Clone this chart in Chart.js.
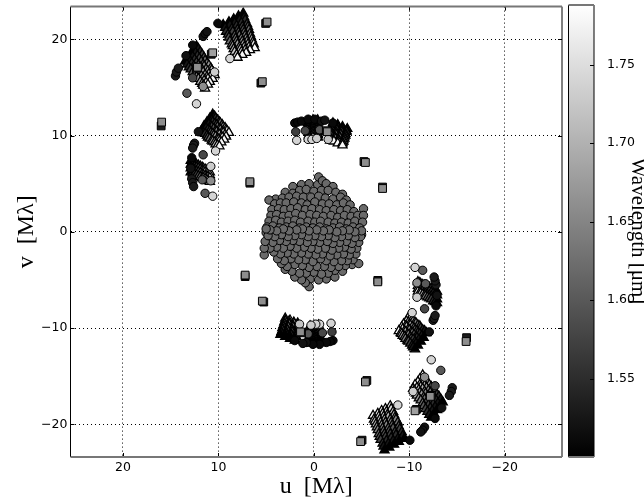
<!DOCTYPE html>
<html>
<head>
<meta charset="utf-8">
<style>
  html, body { margin: 0; padding: 0; background: #fff; overflow: hidden; }
  canvas { position: absolute; left: 0; top: 0; }
</style>
<script src="https://cdn.jsdelivr.net/npm/chart.js@4/dist/chart.umd.min.js"></script>
</head>
<body>
<canvas id="uvChart" width="644" height="499"></canvas>
<canvas id="barChart" width="644" height="499"></canvas>
<script>
// ticks
const xTicks = [20, 10, 0, -10, -20];
const yTicks = [20, 10, 0, -10, -20];
const barTicks = [1.55, 1.6, 1.65, 1.7, 1.75];

// wavelength of each spectral channel, used by the triangle fans
const channels = [1.50, 1.525, 1.55, 1.575, 1.60, 1.625, 1.65, 1.675, 1.70, 1.725, 1.75, 1.78];

// triangles, one row per baseline, one value per channel
const triU = [
  [7.4,7.3,7.2,7.0,6.9,6.8,6.7,6.6,6.5,6.4,6.3,6.2],
  [7.9,7.8,7.6,7.5,7.4,7.3,7.2,7.1,7.0,6.9,6.8,6.7],
  [8.4,8.3,8.1,8.0,7.9,7.8,7.6,7.5,7.4,7.3,7.2,7.1],
  [8.9,8.8,8.6,8.5,8.3,8.2,8.1,8.0,7.8,7.7,7.6,7.5],
  [9.5,9.3,9.2,9.0,8.9,8.8,8.6,8.5,8.4,8.3,8.1,8.0],
  [12.3,12.1,11.9,11.7,11.5,11.4,11.2,11.0,10.8,10.7,10.5,10.4],
  [12.6,12.4,12.2,12.0,11.8,11.6,11.5,11.3,11.1,11.0,10.8,10.6],
  [12.9,12.7,12.5,12.3,12.1,11.9,11.7,11.6,11.4,11.2,11.1,10.9],
  [13.2,13.0,12.8,12.6,12.4,12.2,12.0,11.8,11.6,11.5,11.3,11.1],
  [13.5,13.3,13.1,12.9,12.7,12.5,12.3,12.1,11.9,11.7,11.6,11.4],
  [10.6,10.4,10.3,10.1,9.9,9.8,9.6,9.5,9.3,9.2,9.1,8.9],
  [10.9,10.7,10.6,10.4,10.2,10.1,9.9,9.8,9.6,9.5,9.3,9.2],
  [11.2,11.0,10.8,10.7,10.5,10.3,10.2,10.0,9.9,9.7,9.6,9.4],
  [11.5,11.3,11.1,10.9,10.8,10.6,10.5,10.3,10.1,10.0,9.9,9.7],
  [11.8,11.6,11.4,11.2,11.1,10.9,10.7,10.6,10.4,10.3,10.1,9.9],
  [-2.0,-2.0,-1.9,-1.9,-1.9,-1.8,-1.8,-1.8,-1.8,-1.7,-1.7,-1.7],
  [-2.5,-2.5,-2.4,-2.4,-2.3,-2.3,-2.3,-2.2,-2.2,-2.2,-2.1,-2.1],
  [-3.0,-3.0,-2.9,-2.9,-2.8,-2.8,-2.7,-2.7,-2.6,-2.6,-2.6,-2.5],
  [-3.5,-3.4,-3.4,-3.3,-3.3,-3.2,-3.2,-3.1,-3.1,-3.0,-3.0,-3.0],
  [0.6,0.6,0.6,0.6,0.6,0.6,0.5,0.5,0.5,0.5,0.5,0.5],
  [0.1,0.1,0.1,0.1,0.1,0.1,0.1,0.1,0.1,0.1,0.1,0.1],
  [-0.4,-0.4,-0.4,-0.4,-0.4,-0.4,-0.4,-0.4,-0.4,-0.4,-0.4,-0.4],
  [12.9,12.7,12.5,12.3,12.1,11.9,11.7,11.6,11.4,11.2,11.1,10.9],
  [12.9,12.7,12.5,12.3,12.1,11.9,11.7,11.6,11.4,11.2,11.1,10.9],
  [12.9,12.7,12.5,12.3,12.1,11.9,11.7,11.6,11.4,11.2,11.1,10.9],
  [12.9,12.7,12.5,12.3,12.1,11.9,11.7,11.6,11.4,11.2,11.1,10.9],
  [-7.4,-7.3,-7.2,-7.0,-6.9,-6.8,-6.7,-6.6,-6.5,-6.4,-6.3,-6.2],
  [-7.9,-7.8,-7.6,-7.5,-7.4,-7.3,-7.2,-7.1,-7.0,-6.9,-6.8,-6.7],
  [-8.4,-8.3,-8.1,-8.0,-7.9,-7.8,-7.6,-7.5,-7.4,-7.3,-7.2,-7.1],
  [-8.9,-8.8,-8.6,-8.5,-8.3,-8.2,-8.1,-8.0,-7.8,-7.7,-7.6,-7.5],
  [-9.5,-9.3,-9.2,-9.0,-8.9,-8.8,-8.6,-8.5,-8.4,-8.3,-8.1,-8.0],
  [-12.3,-12.1,-11.9,-11.7,-11.5,-11.4,-11.2,-11.0,-10.8,-10.7,-10.5,-10.4],
  [-12.6,-12.4,-12.2,-12.0,-11.8,-11.6,-11.5,-11.3,-11.1,-11.0,-10.8,-10.6],
  [-12.9,-12.7,-12.5,-12.3,-12.1,-11.9,-11.7,-11.6,-11.4,-11.2,-11.1,-10.9],
  [-13.2,-13.0,-12.8,-12.6,-12.4,-12.2,-12.0,-11.8,-11.6,-11.5,-11.3,-11.1],
  [-13.5,-13.3,-13.1,-12.9,-12.7,-12.5,-12.3,-12.1,-11.9,-11.7,-11.6,-11.4],
  [-10.6,-10.4,-10.3,-10.1,-9.9,-9.8,-9.6,-9.5,-9.3,-9.2,-9.1,-8.9],
  [-10.9,-10.7,-10.6,-10.4,-10.2,-10.1,-9.9,-9.8,-9.6,-9.5,-9.3,-9.2],
  [-11.2,-11.0,-10.8,-10.7,-10.5,-10.3,-10.2,-10.0,-9.9,-9.7,-9.6,-9.4],
  [-11.5,-11.3,-11.1,-10.9,-10.8,-10.6,-10.5,-10.3,-10.1,-10.0,-9.9,-9.7],
  [-11.8,-11.6,-11.4,-11.2,-11.1,-10.9,-10.7,-10.6,-10.4,-10.3,-10.1,-9.9],
  [2.0,2.0,1.9,1.9,1.9,1.8,1.8,1.8,1.8,1.7,1.7,1.7],
  [2.5,2.5,2.4,2.4,2.3,2.3,2.3,2.2,2.2,2.2,2.1,2.1],
  [3.0,3.0,2.9,2.9,2.8,2.8,2.7,2.7,2.6,2.6,2.6,2.5],
  [3.5,3.4,3.4,3.3,3.3,3.2,3.2,3.1,3.1,3.0,3.0,3.0],
  [-0.6,-0.6,-0.6,-0.6,-0.6,-0.6,-0.5,-0.5,-0.5,-0.5,-0.5,-0.5],
  [-0.1,-0.1,-0.1,-0.1,-0.1,-0.1,-0.1,-0.1,-0.1,-0.1,-0.1,-0.1],
  [0.4,0.4,0.4,0.4,0.4,0.4,0.4,0.4,0.4,0.4,0.4,0.4],
  [-12.9,-12.7,-12.5,-12.3,-12.1,-11.9,-11.7,-11.6,-11.4,-11.2,-11.1,-10.9],
  [-12.9,-12.7,-12.5,-12.3,-12.1,-11.9,-11.7,-11.6,-11.4,-11.2,-11.1,-10.9],
  [-12.9,-12.7,-12.5,-12.3,-12.1,-11.9,-11.7,-11.6,-11.4,-11.2,-11.1,-10.9],
  [-12.9,-12.7,-12.5,-12.3,-12.1,-11.9,-11.7,-11.6,-11.4,-11.2,-11.1,-10.9]
];
const triV = [
  [22.7,22.3,22.0,21.6,21.3,21.0,20.6,20.3,20.0,19.7,19.5,19.1],
  [22.4,22.0,21.7,21.3,21.0,20.7,20.4,20.1,19.8,19.5,19.2,18.9],
  [22.1,21.7,21.4,21.0,20.7,20.4,20.1,19.8,19.5,19.2,18.9,18.6],
  [21.8,21.5,21.1,20.8,20.4,20.1,19.8,19.5,19.2,19.0,18.7,18.4],
  [21.5,21.2,20.8,20.5,20.2,19.8,19.5,19.3,19.0,18.7,18.4,18.1],
  [19.3,19.0,18.7,18.4,18.1,17.8,17.5,17.3,17.0,16.8,16.5,16.3],
  [18.9,18.6,18.3,18.0,17.7,17.4,17.2,16.9,16.7,16.4,16.2,15.9],
  [18.5,18.2,17.9,17.6,17.3,17.1,16.8,16.6,16.3,16.1,15.9,15.6],
  [18.1,17.8,17.5,17.2,17.0,16.7,16.5,16.2,16.0,15.7,15.5,15.3],
  [17.7,17.4,17.1,16.9,16.6,16.3,16.1,15.9,15.6,15.4,15.2,14.9],
  [12.2,12.0,11.8,11.6,11.4,11.3,11.1,10.9,10.8,10.6,10.5,10.3],
  [11.8,11.6,11.4,11.2,11.1,10.9,10.7,10.6,10.4,10.3,10.1,9.9],
  [11.4,11.2,11.0,10.9,10.7,10.5,10.4,10.2,10.1,9.9,9.8,9.6],
  [11.0,10.8,10.6,10.5,10.3,10.2,10.0,9.9,9.7,9.6,9.4,9.3],
  [10.5,10.3,10.2,10.0,9.8,9.7,9.5,9.4,9.3,9.1,9.0,8.9],
  [11.3,11.1,10.9,10.8,10.6,10.4,10.3,10.1,10.0,9.8,9.7,9.5],
  [11.1,10.9,10.7,10.6,10.4,10.2,10.1,9.9,9.8,9.7,9.5,9.4],
  [10.9,10.7,10.6,10.4,10.2,10.1,9.9,9.8,9.6,9.5,9.3,9.2],
  [10.7,10.5,10.4,10.2,10.0,9.9,9.7,9.6,9.4,9.3,9.2,9.0],
  [11.5,11.3,11.1,10.9,10.8,10.6,10.5,10.3,10.1,10.0,9.9,9.7],
  [11.6,11.4,11.2,11.0,10.9,10.7,10.5,10.4,10.2,10.1,9.9,9.8],
  [11.6,11.4,11.2,11.0,10.9,10.7,10.5,10.4,10.2,10.1,9.9,9.8],
  [7.4,7.3,7.2,7.0,6.9,6.8,6.7,6.6,6.5,6.4,6.3,6.2],
  [7.0,6.9,6.8,6.7,6.6,6.5,6.4,6.3,6.2,6.1,6.0,5.9],
  [6.6,6.5,6.4,6.3,6.2,6.1,6.0,5.9,5.8,5.7,5.7,5.6],
  [6.2,6.1,6.0,5.9,5.8,5.7,5.6,5.6,5.5,5.4,5.3,5.2],
  [-22.7,-22.3,-22.0,-21.6,-21.3,-21.0,-20.6,-20.3,-20.0,-19.7,-19.5,-19.1],
  [-22.4,-22.0,-21.7,-21.3,-21.0,-20.7,-20.4,-20.1,-19.8,-19.5,-19.2,-18.9],
  [-22.1,-21.7,-21.4,-21.0,-20.7,-20.4,-20.1,-19.8,-19.5,-19.2,-18.9,-18.6],
  [-21.8,-21.5,-21.1,-20.8,-20.4,-20.1,-19.8,-19.5,-19.2,-19.0,-18.7,-18.4],
  [-21.5,-21.2,-20.8,-20.5,-20.2,-19.8,-19.5,-19.3,-19.0,-18.7,-18.4,-18.1],
  [-19.3,-19.0,-18.7,-18.4,-18.1,-17.8,-17.5,-17.3,-17.0,-16.8,-16.5,-16.3],
  [-18.9,-18.6,-18.3,-18.0,-17.7,-17.4,-17.2,-16.9,-16.7,-16.4,-16.2,-15.9],
  [-18.5,-18.2,-17.9,-17.6,-17.3,-17.1,-16.8,-16.6,-16.3,-16.1,-15.9,-15.6],
  [-18.1,-17.8,-17.5,-17.2,-17.0,-16.7,-16.5,-16.2,-16.0,-15.7,-15.5,-15.3],
  [-17.7,-17.4,-17.1,-16.9,-16.6,-16.3,-16.1,-15.9,-15.6,-15.4,-15.2,-14.9],
  [-12.2,-12.0,-11.8,-11.6,-11.4,-11.3,-11.1,-10.9,-10.8,-10.6,-10.5,-10.3],
  [-11.8,-11.6,-11.4,-11.2,-11.1,-10.9,-10.7,-10.6,-10.4,-10.3,-10.1,-9.9],
  [-11.4,-11.2,-11.0,-10.9,-10.7,-10.5,-10.4,-10.2,-10.1,-9.9,-9.8,-9.6],
  [-11.0,-10.8,-10.6,-10.5,-10.3,-10.2,-10.0,-9.9,-9.7,-9.6,-9.4,-9.3],
  [-10.5,-10.3,-10.2,-10.0,-9.8,-9.7,-9.5,-9.4,-9.3,-9.1,-9.0,-8.9],
  [-11.3,-11.1,-10.9,-10.8,-10.6,-10.4,-10.3,-10.1,-10.0,-9.8,-9.7,-9.5],
  [-11.1,-10.9,-10.7,-10.6,-10.4,-10.2,-10.1,-9.9,-9.8,-9.7,-9.5,-9.4],
  [-10.9,-10.7,-10.6,-10.4,-10.2,-10.1,-9.9,-9.8,-9.6,-9.5,-9.3,-9.2],
  [-10.7,-10.5,-10.4,-10.2,-10.0,-9.9,-9.7,-9.6,-9.4,-9.3,-9.2,-9.0],
  [-11.5,-11.3,-11.1,-10.9,-10.8,-10.6,-10.5,-10.3,-10.1,-10.0,-9.9,-9.7],
  [-11.6,-11.4,-11.2,-11.0,-10.9,-10.7,-10.5,-10.4,-10.2,-10.1,-9.9,-9.8],
  [-11.6,-11.4,-11.2,-11.0,-10.9,-10.7,-10.5,-10.4,-10.2,-10.1,-9.9,-9.8],
  [-7.4,-7.3,-7.2,-7.0,-6.9,-6.8,-6.7,-6.6,-6.5,-6.4,-6.3,-6.2],
  [-7.0,-6.9,-6.8,-6.7,-6.6,-6.5,-6.4,-6.3,-6.2,-6.1,-6.0,-5.9],
  [-6.6,-6.5,-6.4,-6.3,-6.2,-6.1,-6.0,-5.9,-5.8,-5.7,-5.7,-5.6],
  [-6.2,-6.1,-6.0,-5.9,-5.8,-5.7,-5.6,-5.6,-5.5,-5.4,-5.3,-5.2]
];

// circles away from the centre
const ringU = [
  10.06,11.6,11.4,11.2,12.7,13.4,14.5,14.4,14.2,12.7,13.3,12.3,10.4,8.8,11.6,
  12.1,12.5,12.6,12.7,11.6,10.3,12.8,12.9,12.8,12.7,12.6,11.4,10.6,10.8,11.7,10.8,
  2.0,1.7,1.3,0.6,-0.1,-0.8,-1.15,-2.0,1.9,0.9,-0.6,1.8,0.6,0.2,-0.3,-1.5,
  -10.06,-11.6,-11.4,-11.2,-12.7,-13.4,-14.5,-14.4,-14.2,-12.7,-13.3,-12.3,-10.4,-8.8,-11.6,
  -12.1,-12.5,-12.6,-12.7,-11.6,-10.3,-12.8,-12.9,-12.8,-12.7,-12.6,-11.4,-10.6,-10.8,-11.7,-10.8,
  -2.0,-1.7,-1.3,-0.6,0.1,0.8,1.15,2.0,-1.9,-0.9,0.6,-1.8,-0.6,-0.2,0.3,1.5
];
const ringV = [
  21.66,20.3,20.6,20.8,19.4,18.3,16.2,16.6,17.0,16.0,14.4,13.3,16.6,18.0,15.1,
  10.4,9.2,9.0,8.7,8.0,8.4,7.7,6.6,5.5,5.1,4.7,4.0,3.7,6.8,5.4,5.3,
  11.3,11.4,11.5,11.7,11.7,11.5,11.6,11.3,10.4,10.5,10.6,9.5,9.6,9.6,9.7,9.6,
  -21.66,-20.3,-20.6,-20.8,-19.4,-18.3,-16.2,-16.6,-17.0,-16.0,-14.4,-13.3,-16.6,-18.0,-15.1,
  -10.4,-9.2,-9.0,-8.7,-8.0,-8.4,-7.7,-6.6,-5.5,-5.1,-4.7,-4.0,-3.7,-6.8,-5.4,-5.3,
  -11.3,-11.4,-11.5,-11.7,-11.7,-11.5,-11.6,-11.3,-10.4,-10.5,-10.6,-9.5,-9.6,-9.6,-9.7,-9.6
];
const ringW = [
  1.51,1.52,1.52,1.52,1.51,1.52,1.53,1.53,1.53,1.58,1.60,1.74,1.73,1.74,1.66,
  1.52,1.53,1.53,1.53,1.58,1.74,1.51,1.52,1.53,1.53,1.53,1.60,1.74,1.73,1.60,1.66,
  1.51,1.51,1.51,1.51,1.51,1.52,1.52,1.51,1.57,1.58,1.60,1.74,1.74,1.74,1.73,1.72,
  1.51,1.52,1.52,1.52,1.51,1.52,1.53,1.53,1.53,1.58,1.60,1.74,1.73,1.74,1.66,
  1.52,1.53,1.53,1.53,1.58,1.74,1.51,1.52,1.53,1.53,1.53,1.60,1.74,1.73,1.60,1.66,
  1.51,1.51,1.51,1.51,1.51,1.52,1.52,1.51,1.57,1.58,1.60,1.74,1.74,1.74,1.73,1.72
];

// the round cloud in the middle, all at about the same wavelength
const coreWave = 1.62;
const coreU = [
  2.2,1.3,0.5,-0.4,-0.5,-0.9,-1.3,-2.0,
  3.0,2.2,1.5,0.8,0.0,-0.8,-1.5,-2.3,-3.0,
  4.0,3.3,2.6,1.8,1.1,0.3,-0.5,-1.2,-2.0,-2.8,-3.4,
  4.7,4.1,3.5,2.9,2.1,1.3,0.7,-0.1,-0.9,-1.6,-2.4,-3.1,-3.8,
  4.4,3.7,3.1,2.4,1.7,0.9,0.2,-0.6,-1.3,-2.1,-2.8,-3.5,-4.2,-5.2,
  4.5,3.9,3.2,2.6,1.9,1.2,0.4,-0.3,-1.0,-1.8,-2.5,-3.2,-3.9,-4.6,-5.2,
  4.7,4.0,3.4,2.7,2.0,1.4,0.6,-0.1,-0.7,-1.5,-2.2,-2.9,-3.6,-4.3,-5.1,
  4.9,4.3,3.6,2.9,2.2,1.5,0.8,0.1,-0.6,-1.3,-2.0,-2.7,-3.4,-4.1,-4.8,
  5.0,4.3,3.7,3.0,2.4,1.6,1.0,0.3,-0.5,-1.2,-1.8,-2.6,-3.2,-3.9,-4.6,-5.0,
  -2.2,-1.3,-0.5,0.4,0.5,0.9,1.3,2.0,
  -3.0,-2.2,-1.5,-0.8,0.0,0.8,1.5,2.3,3.0,
  -4.0,-3.3,-2.6,-1.8,-1.1,-0.3,0.5,1.2,2.0,2.8,3.4,
  -4.7,-4.1,-3.5,-2.9,-2.1,-1.3,-0.7,0.1,0.9,1.6,2.4,3.1,3.8,
  -4.4,-3.7,-3.1,-2.4,-1.7,-0.9,-0.2,0.6,1.3,2.1,2.8,3.5,4.2,5.2,
  -4.5,-3.9,-3.2,-2.6,-1.9,-1.2,-0.4,0.3,1.0,1.8,2.5,3.2,3.9,4.6,5.2,
  -4.7,-4.0,-3.4,-2.7,-2.0,-1.4,-0.6,0.1,0.7,1.5,2.2,2.9,3.6,4.3,5.1,
  -4.9,-4.3,-3.6,-2.9,-2.2,-1.5,-0.8,-0.1,0.6,1.3,2.0,2.7,3.4,4.1,4.8,
  -5.0,-4.3,-3.7,-3.0,-2.4,-1.6,-1.0,-0.3,0.5,1.2,1.8,2.6,3.2,3.9,4.6,5.0
];
const coreV = [
  4.7,4.9,5.0,4.9,5.7,5.3,5.0,4.7,
  4.1,4.0,4.3,4.4,4.2,4.3,4.3,4.1,3.9,
  3.4,3.5,3.6,3.7,3.6,3.6,3.7,3.5,3.4,3.6,3.3,
  3.3,2.9,3.0,3.0,3.1,3.0,2.8,3.1,2.9,2.9,2.8,3.0,2.8,
  2.3,2.4,2.3,2.4,2.5,2.3,2.4,2.3,2.2,2.3,2.2,2.3,2.1,2.4,
  1.7,1.8,1.6,1.7,1.9,1.7,1.8,1.7,1.6,1.7,1.5,1.7,1.6,1.7,1.7,
  1.1,1.2,1.0,1.1,1.2,1.0,1.1,1.0,1.1,1.0,0.9,1.0,0.9,1.1,1.0,
  0.5,0.6,0.4,0.5,0.6,0.4,0.5,0.4,0.5,0.3,0.4,0.5,0.3,0.5,0.4,
  -0.1,0.0,-0.2,-0.1,0.0,-0.2,-0.1,-0.2,-0.1,-0.3,-0.2,-0.1,-0.3,-0.1,-0.2,-0.3,
  -4.7,-4.9,-5.0,-4.9,-5.7,-5.3,-5.0,-4.7,
  -4.1,-4.0,-4.3,-4.4,-4.2,-4.3,-4.3,-4.1,-3.9,
  -3.4,-3.5,-3.6,-3.7,-3.6,-3.6,-3.7,-3.5,-3.4,-3.6,-3.3,
  -3.3,-2.9,-3.0,-3.0,-3.1,-3.0,-2.8,-3.1,-2.9,-2.9,-2.8,-3.0,-2.8,
  -2.3,-2.4,-2.3,-2.4,-2.5,-2.3,-2.4,-2.3,-2.2,-2.3,-2.2,-2.3,-2.1,-2.4,
  -1.7,-1.8,-1.6,-1.7,-1.9,-1.7,-1.8,-1.7,-1.6,-1.7,-1.5,-1.7,-1.6,-1.7,-1.7,
  -1.1,-1.2,-1.0,-1.1,-1.2,-1.0,-1.1,-1.0,-1.1,-1.0,-0.9,-1.0,-0.9,-1.1,-1.0,
  -0.5,-0.6,-0.4,-0.5,-0.6,-0.4,-0.5,-0.4,-0.5,-0.3,-0.4,-0.5,-0.3,-0.5,-0.4,
  0.1,0.0,0.2,0.1,0.0,0.2,0.1,0.2,0.1,0.3,0.2,0.1,0.3,0.1,0.2,0.3
];

// squares, dark one first then the lighter one on top
const boxU = [
  16.0,15.95,5.05,4.9,10.75,10.6,12.3,12.2,5.55,5.4,-5.25,-5.4,6.7,6.7,-7.2,-7.2,-1.3,-1.4,
  -16.0,-15.95,-5.05,-4.9,-10.75,-10.6,-12.3,-12.2,-5.55,-5.4,5.25,5.4,-6.7,-6.7,7.2,7.2,1.3,1.4
];
const boxV = [
  11.0,11.4,21.65,21.8,18.45,18.6,17.0,17.1,15.45,15.6,7.3,7.2,5.05,5.2,4.65,4.5,10.5,10.4,
  -11.0,-11.4,-21.65,-21.8,-18.45,-18.6,-17.0,-17.1,-15.45,-15.6,-7.3,-7.2,-5.05,-5.2,-4.65,-4.5,-10.5,-10.4
];
const boxW = [
  1.53,1.66,1.53,1.66,1.53,1.68,1.56,1.66,1.53,1.66,1.53,1.66,1.53,1.66,1.50,1.66,1.55,1.66,
  1.53,1.66,1.53,1.66,1.53,1.68,1.56,1.66,1.53,1.66,1.53,1.66,1.53,1.66,1.50,1.66,1.55,1.66
];

const waveMin = 1.5, waveMax = 1.788;

function gray(w) {
  let g = Math.round((w - waveMin) / (waveMax - waveMin) * 255);
  g = Math.max(0, Math.min(255, g));
  return 'rgb(' + g + ',' + g + ',' + g + ')';
}
function minusLabel(v) {
  return v < 0 ? '\u2212' + (-v) : '' + v;
}

// triangles lower on the page sit on top of the ones above them
let triPts = [];
triU.forEach((line, k) => {
  line.forEach((u, i) => {
    triPts.push({ x: u, y: triV[k][i], w: channels[i] });
  });
});
triPts.sort((a, b) => b.y - a.y);

const ringPts = ringU.map((u, i) => ({ x: u, y: ringV[i], w: ringW[i] }));
const corePts = coreU.map((u, i) => ({ x: u, y: coreV[i], w: coreWave }));
const boxPts = boxU.map((u, i) => ({ x: u, y: boxV[i], w: boxW[i] }));

function markSet(pts, style, radius, edge, order) {
  return {
    data: pts,
    pointStyle: style,
    pointRadius: radius,
    pointBorderColor: '#000',
    pointBorderWidth: edge,
    pointBackgroundColor: c => gray(c.raw.w),
    order: order
  };
}

// frame and small inward ticks, matplotlib style
const framePlugin = {
  id: 'frame',
  afterDraw(chart) {
    const a = chart.chartArea, ctx = chart.ctx;
    ctx.save();
    ctx.strokeStyle = '#000';
    ctx.lineWidth = 1;
    ctx.beginPath();
    ctx.moveTo(a.left, a.top); ctx.lineTo(a.left, a.bottom);
    ctx.moveTo(a.right, a.top); ctx.lineTo(a.right, a.bottom);
    if (chart.canvas.id == 'uvChart') {
      xTicks.forEach(v => {
        const p = Math.round(chart.scales.x.getPixelForValue(v)) + 0.5;
        ctx.moveTo(p, a.bottom); ctx.lineTo(p, a.bottom - 4);
        ctx.moveTo(p, a.top); ctx.lineTo(p, a.top + 4);
      });
      yTicks.forEach(v => {
        const p = Math.round(chart.scales.y.getPixelForValue(v)) + 0.5;
        ctx.moveTo(a.left, p); ctx.lineTo(a.left + 4, p);
        ctx.moveTo(a.right, p); ctx.lineTo(a.right - 4, p);
      });
    } else {
      barTicks.forEach(v => {
        const p = Math.round(chart.scales.y.getPixelForValue(v)) + 0.5;
        ctx.moveTo(a.right, p); ctx.lineTo(a.right - 4, p);
      });
    }
    ctx.stroke();
    ctx.strokeStyle = '#777';
    ctx.lineWidth = 2;
    ctx.beginPath();
    ctx.moveTo(a.left, a.top); ctx.lineTo(a.right, a.top);
    ctx.moveTo(a.left, a.bottom); ctx.lineTo(a.right, a.bottom);
    ctx.stroke();
    ctx.restore();
  }
};

const tickFont = { family: 'DejaVu Sans', size: 12.5 };
const titleFont = { family: 'Liberation Serif', size: 24 };

new Chart(document.getElementById('uvChart'), {
  type: 'scatter',
  data: {
    datasets: [
      markSet(triPts, 'triangle', 5.3, 1.3, 3),
      markSet(corePts, 'circle', 4.2, 1, 2),
      markSet(ringPts, 'circle', 4.2, 1, 1),
      markSet(boxPts, 'rect', 5.5, 1, 0)
    ]
  },
  options: {
    responsive: false,
    animation: false,
    layout: { padding: { top: 5, right: 82, left: 0, bottom: 0 } },
    plugins: { legend: { display: false }, tooltip: { enabled: false } },
    scales: {
      x: {
        type: 'linear',
        reverse: true,
        min: -26,
        max: 25.5,
        afterBuildTicks: s => { s.ticks = xTicks.map(v => ({ value: v })); },
        afterFit: s => { s.height = 42; s.paddingLeft = 0; s.paddingRight = 0; },
        grid: { color: '#000', lineWidth: 1, drawTicks: false },
        border: { display: false, dash: [1, 3] },
        ticks: { color: '#000', font: tickFont, padding: 3, maxRotation: 0, callback: minusLabel },
        title: { display: true, text: 'u  [M\u03bb]', color: '#000', font: titleFont, padding: { top: 0, bottom: -2 } }
      },
      y: {
        type: 'linear',
        min: -23.4,
        max: 23.4,
        afterBuildTicks: s => { s.ticks = yTicks.map(v => ({ value: v })); },
        afterFit: s => { s.width = 70.5; s.paddingTop = 0; s.paddingBottom = 0; },
        grid: { color: '#000', lineWidth: 1, drawTicks: false },
        border: { display: false, dash: [1, 3] },
        ticks: { color: '#000', font: tickFont, padding: 3, callback: minusLabel },
        title: { display: true, text: 'v  [M\u03bb]', color: '#000', font: titleFont, padding: { top: 12, bottom: 0 } }
      }
    }
  },
  plugins: [framePlugin]
});

// colour bar: one floating bar filled with the grey ramp, on its own axis
new Chart(document.getElementById('barChart'), {
  type: 'bar',
  data: {
    labels: ['Wavelength'],
    datasets: [{
      data: [[waveMin, waveMax]],
      barPercentage: 1,
      categoryPercentage: 1,
      backgroundColor: c => {
        const a = c.chart.chartArea;
        if (!a) return '#000';
        const g = c.chart.ctx.createLinearGradient(0, a.bottom, 0, a.top);
        g.addColorStop(0, gray(waveMin));
        g.addColorStop(1, gray(waveMax));
        return g;
      }
    }]
  },
  options: {
    responsive: false,
    animation: false,
    layout: { padding: { top: 5, right: 0, left: 568.5, bottom: 42 } },
    plugins: { legend: { display: false }, tooltip: { enabled: false } },
    scales: {
      x: { display: false },
      y: {
        position: 'right',
        min: waveMin,
        max: waveMax,
        afterBuildTicks: s => { s.ticks = barTicks.map(v => ({ value: v })); },
        afterFit: s => { s.width = 50; s.paddingTop = 0; s.paddingBottom = 0; },
        grid: { display: false },
        border: { display: false },
        ticks: { color: '#000', font: tickFont, padding: 5, callback: v => v.toFixed(2) },
        title: { display: true, text: 'Wavelength [\u03bcm]', color: '#000', font: { family: 'Liberation Serif', size: 21 }, padding: { top: -6, bottom: 0 } }
      }
    }
  },
  plugins: [framePlugin]
});
</script>
</body>
</html>
